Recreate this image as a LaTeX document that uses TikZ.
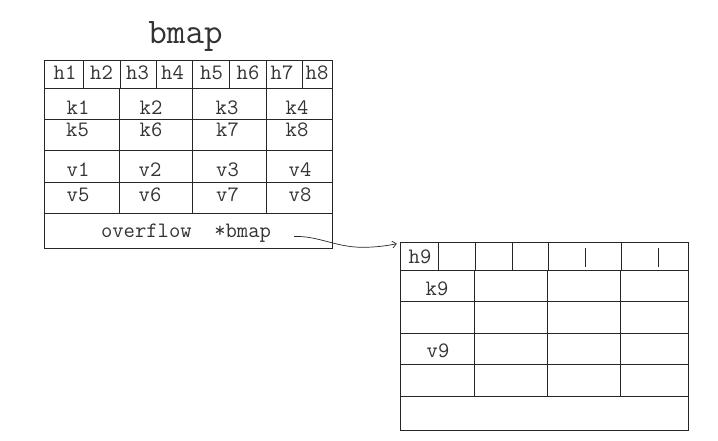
\documentclass[tikz,border=0pt]{standalone}
\usetikzlibrary{arrows.meta}
\begin{document}
\begin{tikzpicture}[x=1pt,y=-1pt,
  grid/.style={line width=0.8pt, draw=black!85},
  cell/.style={font=\fontsize{22}{22}\selectfont\ttfamily, anchor=base, inner sep=0pt, text=black!80},
  titletext/.style={font=\fontsize{36}{36}\selectfont\ttfamily, anchor=base, inner sep=0pt, text=black!80},
  tablebox/.style={grid, draw, inner sep=0pt, outer sep=0pt, anchor=north west},
  link/.style={line width=0.7pt, draw=black!85, -{Straight Barb[length=4pt,width=7pt]}}
]
\useasboundingbox (0,0) rectangle (718,441);

% title
\node[titletext] (title) at (185.5,44) {bmap};

% left table
\node[tablebox, minimum width=288.4pt, minimum height=188pt] (lt) at (44.3,60) {};
\foreach \yy in {88,119,150.7,182,213}
  \draw[grid] (44.3,\yy) -- (332.7,\yy);
\foreach \xx in {83.3,120,156,192.7,229.3,266,302.7}
  \draw[grid] (\xx,60) -- (\xx,88);
\foreach \xx in {119.3,192.7,266}
  \draw[grid] (\xx,88) -- (\xx,213);

% h labels
\node[cell] (h1) at (65,80) {h1};
\node[cell] (h2) at (101.5,80) {h2};
\node[cell] (h3) at (137.5,80) {h3};
\node[cell] (h4) at (172.5,80) {h4};
\node[cell] (h5) at (211.5,80) {h5};
\node[cell] (h6) at (248,80) {h6};
\node[cell] (h7) at (282,80) {h7};
\node[cell] (h8) at (317,80) {h8};

% k labels
\node[cell] (k1) at (78,115) {k1};
\node[cell] (k2) at (151,115) {k2};
\node[cell] (k3) at (227,115) {k3};
\node[cell] (k4) at (297,115) {k4};
\node[cell] (k5) at (77.5,137) {k5};
\node[cell] (k6) at (151,137) {k6};
\node[cell] (k7) at (227.5,137) {k7};
\node[cell] (k8) at (297,137) {k8};

% v labels
\node[cell] (v1) at (78,176.5) {v1};
\node[cell] (v2) at (150,176.5) {v2};
\node[cell] (v3) at (227.5,176.5) {v3};
\node[cell] (v4) at (300,176.5) {v4};
\node[cell] (v5) at (78,202) {v5};
\node[cell] (v6) at (150,202) {v6};
\node[cell] (v7) at (227.5,202) {v7};
\node[cell] (v8) at (300,202) {v8};

\node[cell] (ovf) at (186,237) {overflow\ \ *bmap};

% right table
\node[tablebox, minimum width=288pt, minimum height=188pt] (rt) at (400.3,242.7) {};
\foreach \yy in {270,301,333.3,364.3,396.3}
  \draw[grid] (400.3,\yy) -- (688.3,\yy);
\foreach \xx in {438.3,475.7,512.3,548.3,621.7}
  \draw[grid] (\xx,242.7) -- (\xx,270);
\foreach \xx in {585.3,658.3}
  \draw[grid] (\xx,247.5) -- (\xx,266.5);
\foreach \xx in {474.3,547.5,620.7}
  \draw[grid] (\xx,270) -- (\xx,396.3);

\node[cell] (h9) at (420,263) {h9};
\node[cell] (k9) at (437,295) {k9};
\node[cell] (v9) at (438,357.3) {v9};

% pointer
\coordinate (ptr) at (294,236.5);
\draw[link] (ptr) .. controls (318,235.5) and (336,247.5) .. (363,247.3)
  .. controls (380,247.2) and (390,245) .. ([xshift=-3.5pt,yshift=-1pt]rt.north west);
\end{tikzpicture}
\end{document}
